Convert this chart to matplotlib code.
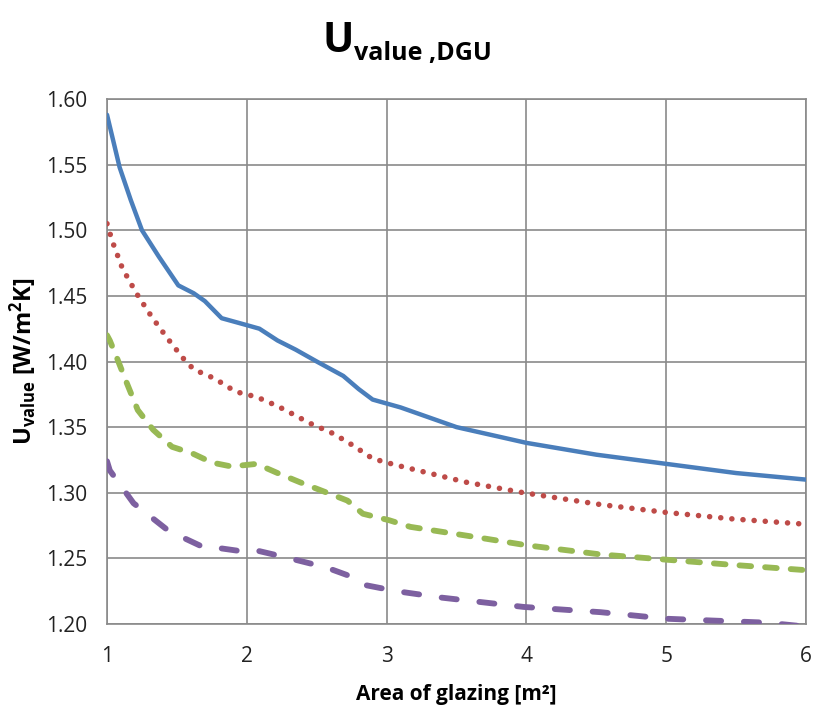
import matplotlib
matplotlib.use("Agg")
import matplotlib.pyplot as plt

# Colours (Excel 2007 palette)
COL_BLUE = "#4a7ebb"
COL_RED = "#be4b48"
COL_GREEN = "#98b954"
COL_PURPLE = "#7d60a0"
COL_GRID = "#8a8a8a"

plt.rcParams["font.family"] = ["Open Sans", "DejaVu Sans"]
plt.rcParams["mathtext.fontset"] = "custom"
plt.rcParams["mathtext.rm"] = "Open Sans"
plt.rcParams["mathtext.bf"] = "Open Sans:bold"

# Data
blue_x = [1.0, 1.09, 1.17, 1.25, 1.37, 1.51, 1.62, 1.70, 1.82, 1.99, 2.09, 2.22,
          2.35, 2.5, 2.69, 2.8, 2.9, 3.1, 3.5, 4.0, 4.5, 5.0, 5.5, 6.0]
blue_y = [1.588, 1.548, 1.523, 1.500, 1.480, 1.458, 1.452, 1.446, 1.433, 1.428,
          1.425, 1.416, 1.409, 1.400, 1.389, 1.379, 1.371, 1.365, 1.350, 1.338,
          1.329, 1.322, 1.315, 1.310]

red_x = [1.0, 1.04, 1.11, 1.21, 1.32, 1.43, 1.54, 1.62, 1.77, 1.92, 2.07, 2.22,
         2.31, 2.45, 2.62, 2.76, 2.9, 3.07, 3.57, 3.98, 4.53, 5.0, 5.48, 6.0]
red_y = [1.505, 1.491, 1.471, 1.452, 1.434, 1.418, 1.403, 1.394, 1.387, 1.377,
         1.373, 1.366, 1.361, 1.353, 1.345, 1.336, 1.326, 1.321, 1.308, 1.300,
         1.291, 1.285, 1.280, 1.276]

green_x = [1.0, 1.02, 1.07, 1.14, 1.22, 1.33, 1.465, 1.61, 1.75, 1.89, 2.07, 2.22,
           2.38, 2.55, 2.72, 2.83, 3.02, 3.17, 3.65, 4.0, 4.53, 5.0, 5.48, 6.0]
green_y = [1.420, 1.416, 1.403, 1.384, 1.363, 1.348, 1.335, 1.330, 1.323, 1.320,
           1.322, 1.315, 1.308, 1.301, 1.294, 1.284, 1.279, 1.274, 1.266, 1.260,
           1.253, 1.249, 1.245, 1.241]

purple_x = [1.0, 1.02, 1.19, 1.44, 1.70, 1.79, 1.99, 2.07, 2.27, 2.57, 2.75, 2.83,
            3.07, 3.4, 3.98, 4.53, 5.0, 5.48, 5.72, 6.0]
purple_y = [1.324, 1.317, 1.292, 1.271, 1.258, 1.258, 1.255, 1.256, 1.251, 1.243,
            1.236, 1.230, 1.225, 1.220, 1.213, 1.209, 1.204, 1.202, 1.201, 1.198]

x_ticks = [1, 2, 3, 4, 5, 6]
y_ticks = [1.20, 1.25, 1.30, 1.35, 1.40, 1.45, 1.50, 1.55, 1.60]

fig = plt.figure(figsize=(8.15, 7.27), dpi=100)
ax = fig.add_axes([0.1313, 0.1417, 0.8577, 0.7221])

# round caps lengthen each dash by one line width and shorten each gap by one
ax.plot(blue_x, blue_y, color=COL_BLUE, linewidth=3.2, solid_capstyle="round",
        solid_joinstyle="round", zorder=5)
ax.plot(red_x, red_y, color=COL_RED, linewidth=4.0, linestyle=(0, (0.01, 2.0)),
        dash_capstyle="round", zorder=5)
ax.plot(green_x, green_y, color=COL_GREEN, linewidth=4.2, linestyle=(0, (2.0, 2.4)),
        dash_capstyle="round", zorder=5)
ax.plot(purple_x, purple_y, color=COL_PURPLE, linewidth=4.2, linestyle=(0, (2.6, 3.9)),
        dash_capstyle="round", zorder=5)

ax.set_xlim(1, 6)
ax.set_ylim(1.20, 1.60)
ax.set_xticks(x_ticks)
ax.set_yticks(y_ticks)
ax.set_yticklabels([f"{v:.2f}" for v in y_ticks])
ax.grid(True, color=COL_GRID, linewidth=1.2)
ax.set_axisbelow(True)
for spine in ax.spines.values():
    spine.set_color(COL_GRID)
    spine.set_linewidth(1.2)
ax.tick_params(length=0, labelsize=15, colors="#222222", pad=14)
ax.tick_params(axis="x", pad=16)

ax.set_xlabel("Area of glazing [m²]", fontsize=15, fontweight="bold", labelpad=12)
ax.set_ylabel(r"$\mathbf{U}_{\mathbf{value}}$ [W/m$\mathbf{^2}$K]", fontsize=17,
              fontweight="bold")
ax.yaxis.set_label_coords(-0.098, 0.5)

# Title with subscript
fig.text(0.415, 0.928, "U", fontsize=30, fontweight="bold", ha="center", va="baseline")
fig.text(0.434, 0.918, "value ,DGU", fontsize=18, fontweight="bold", ha="left", va="baseline")

fig.savefig("out.png", dpi=100, facecolor="white")
